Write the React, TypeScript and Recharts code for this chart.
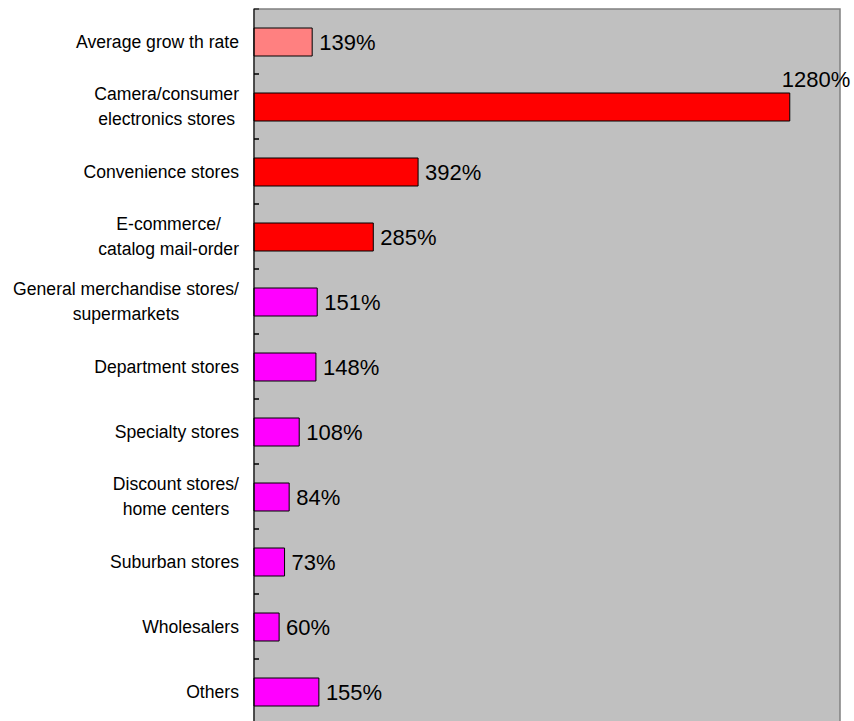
import React from "react";
import { BarChart, Bar, XAxis, YAxis, Cell, LabelList, ReferenceArea } from "recharts";

const categories: string[][] = [
  ["Average grow th rate"],
  ["Camera/consumer", "electronics stores"],
  ["Convenience stores"],
  ["E-commerce/", "catalog mail-order"],
  ["General merchandise stores/", "supermarkets"],
  ["Department stores"],
  ["Specialty stores"],
  ["Discount stores/", "home centers"],
  ["Suburban stores"],
  ["Wholesalers"],
  ["Others"],
];
const growth: number[] = [139, 1280, 392, 285, 151, 148, 108, 84, 73, 60, 155];
const barColors: string[] = [
  "#FF8080", "#FF0000", "#FF0000", "#FF0000",
  "#FF00FF", "#FF00FF", "#FF00FF", "#FF00FF", "#FF00FF", "#FF00FF", "#FF00FF",
];
const xDomain: [number, number] = [0, 1400];

const data = categories.map((lines, i) => ({ name: lines.join("\n"), value: growth[i] }));

const W = 854;
const H = 730;
const MARGIN = { top: 9, right: 14, bottom: 6, left: 0 };
const YAXIS_W = 254;
const BAND = (H - MARGIN.top - MARGIN.bottom) / categories.length;
const FONT = "'Liberation Sans', Arial, sans-serif";
const CAT_SIZE = 17.6;
const VAL_SIZE = 22;
const LINE_H = 25;

let ctx: CanvasRenderingContext2D | null = null;
function measure(t: string, size: number): number {
  if (!ctx) ctx = document.createElement("canvas").getContext("2d");
  if (!ctx) return t.length * size * 0.5;
  ctx.font = `${size}px 'Liberation Sans', Arial, sans-serif`;
  return ctx.measureText(t).width;
}

const CatTick = (props: any) => {
  const { y, payload } = props;
  const lines: string[] = String(payload.value).split("\n");
  const right = YAXIS_W - 15;
  const maxW = Math.max(...lines.map((l) => measure(l, CAT_SIZE)));
  const cx = right - maxW / 2;
  const axisX = YAXIS_W;
  return (
    <g>
      <line x1={axisX} x2={axisX + 5} y1={y - BAND / 2} y2={y - BAND / 2} stroke="#000" strokeWidth={1} />
      <line x1={axisX} x2={axisX + 5} y1={y + BAND / 2} y2={y + BAND / 2} stroke="#000" strokeWidth={1} />
      {lines.map((l, i) => (
        <text
          key={i}
          x={lines.length > 1 ? cx : right}
          y={y + (i - (lines.length - 1) / 2) * LINE_H}
          dy="0.35em"
          textAnchor={lines.length > 1 ? "middle" : "end"}
          fontFamily={FONT}
          fontSize={CAT_SIZE}
          fill="#000"
        >
          {l}
        </text>
      ))}
    </g>
  );
};

const maxVal = Math.max(...growth);

const ValueLabel = (props: any) => {
  const { x, y, width, height, value } = props;
  const end = x + width;
  if (value === maxVal) {
    return (
      <text x={end - 8} y={y - 6} fontFamily={FONT} fontSize={VAL_SIZE} fill="#000">
        {`${value}%`}
      </text>
    );
  }
  return (
    <text x={end + 7} y={y + height / 2} dy="0.35em" fontFamily={FONT} fontSize={VAL_SIZE} fill="#000">
      {`${value}%`}
    </text>
  );
};

export default function App() {
  return (
    <div style={{ position: "absolute", left: 0, top: 0, width: W, height: 721, overflow: "hidden", background: "#fff" }}>
      <BarChart width={W} height={H} data={data} layout="vertical" margin={MARGIN} barSize={28}>
        <ReferenceArea x1={xDomain[0]} x2={xDomain[1]} fill="#C0C0C0" fillOpacity={1} stroke="#808080" strokeWidth={1.5} ifOverflow="visible" />
        <XAxis type="number" domain={xDomain} hide />
        <YAxis
          type="category"
          dataKey="name"
          width={YAXIS_W}
          axisLine={{ stroke: "#000", strokeWidth: 1 }}
          tickLine={false}
          tickSize={0}
          tick={<CatTick />}
          interval={0}
        />
        <Bar dataKey="value" isAnimationActive={false} stroke="#000" strokeWidth={1}>
          {data.map((_, i) => (
            <Cell key={i} fill={barColors[i]} />
          ))}
          <LabelList dataKey="value" content={<ValueLabel />} />
        </Bar>
      </BarChart>
    </div>
  );
}
